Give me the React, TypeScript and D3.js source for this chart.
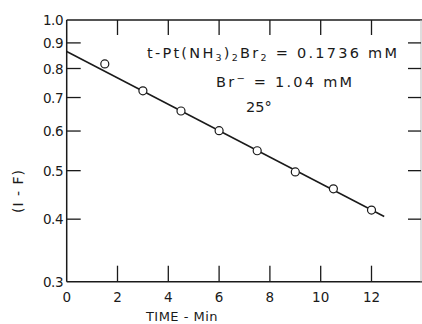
import * as d3 from "d3";

// measured points, (1-F) vs time
const timeMin = [1.5, 3, 4.5, 6, 7.5, 9, 10.5, 12];
const oneMinusF = [0.817, 0.722, 0.658, 0.601, 0.548, 0.497, 0.46, 0.417];

// fitted line endpoints
const fitTime = [0, 12.5];
const fitValue = [0.865, 0.405];

const xTicks = [0, 2, 4, 6, 8, 10, 12];
const xTickLabels = ["0", "2", "4", "6", "8", "10", "12"];
const yTicks = [1.0, 0.9, 0.8, 0.7, 0.6, 0.5, 0.4, 0.3];
const yTickLabels = ["1.0", "0.9", "0.8", "0.7", "0.6", "0.5", "0.4", "0.3"];

const W = 422;
const H = 324;
const left = 66.7;
const right = 421;
const top = 20;
const bottom = 281.7;
const font = "'DejaVu Sans', Verdana, sans-serif";
const ink = "#1a1a1a";

export default function App() {
  const x = d3.scaleLinear().domain([0, 14]).range([left, 422.3]);
  const y = d3.scaleLog().domain([0.3, 1]).range([bottom, top]);

  const line = d3
    .line<number>()
    .x((d, i) => x(fitTime[i]))
    .y((d) => y(d));

  const innerX = xTicks.filter((t) => t > 0);
  const innerY = yTicks.filter((t) => t < 1 && t > 0.3);

  return (
    <svg
      width={W}
      height={H}
      style={{ position: "absolute", left: 0, top: 0, background: "#fff" }}
      fontFamily={font}
    >
      {/* frame */}
      <line x1={left} x2={left} y1={top} y2={bottom} stroke={ink} strokeWidth={1.5} />
      <line x1={left} x2={right + 1} y1={top} y2={top} stroke={ink} strokeWidth={1.5} />
      <line x1={left} x2={right + 1} y1={bottom} y2={bottom} stroke={ink} strokeWidth={1.5} />
      <line x1={right} x2={right} y1={top} y2={bottom} stroke="#bbb" strokeWidth={1} />

      {/* x ticks */}
      {innerX.map((t) => (
        <g key={"xt" + t}>
          <line x1={x(t)} x2={x(t)} y1={bottom} y2={bottom - 16} stroke={ink} strokeWidth={1.3} />
          <line x1={x(t)} x2={x(t)} y1={top} y2={top + 15} stroke={ink} strokeWidth={1.3} />
        </g>
      ))}
      {/* y ticks */}
      {innerY.map((t) => (
        <g key={"yt" + t}>
          <line x1={left} x2={left + 14} y1={y(t)} y2={y(t)} stroke={ink} strokeWidth={1.3} />
          <line x1={right} x2={right - 13} y1={y(t)} y2={y(t)} stroke={ink} strokeWidth={1.3} />
        </g>
      ))}

      {/* tick labels */}
      {xTicks.map((t, i) => (
        <text key={"xl" + t} x={x(t)} y={302} fontSize={13.5} textAnchor="middle" fill={ink}>
          {xTickLabels[i]}
        </text>
      ))}
      {yTicks.map((t, i) => (
        <text
          key={"yl" + t}
          x={63}
          y={y(t) + 5}
          fontSize={13.5}
          textAnchor="end"
          fill={ink}
          letterSpacing={-0.5}
        >
          {yTickLabels[i]}
        </text>
      ))}

      {/* axis titles */}
      <text x={182} y={321} fontSize={13} textAnchor="middle" fill={ink} letterSpacing={0.5}>
        TIME - Min
      </text>
      <text
        transform="translate(23,191) rotate(-90)"
        fontSize={14}
        textAnchor="middle"
        fill={ink}
        letterSpacing={1}
      >
        (I - F)
      </text>

      {/* fit line */}
      <path d={line(fitValue) || ""} fill="none" stroke={ink} strokeWidth={1.5} />

      {/* points */}
      {timeMin.map((t, i) => (
        <circle
          key={"p" + i}
          cx={x(t)}
          cy={y(oneMinusF[i])}
          r={4}
          fill="#fff"
          stroke={ink}
          strokeWidth={1.2}
        />
      ))}

      {/* annotations */}
      <text x={147} y={57.5} fontSize={14.5} fill={ink} textLength={250} lengthAdjust="spacing">
        t-Pt(NH<tspan fontSize={9.5} dy={3}>3</tspan>
        <tspan dy={-3}>)</tspan>
        <tspan fontSize={9.5} dy={3}>2</tspan>
        <tspan dy={-3}>Br</tspan>
        <tspan fontSize={9.5} dy={3}>2</tspan>
        <tspan dy={-3}> = 0.1736 mM</tspan>
      </text>
      <text x={216} y={86.7} fontSize={14.5} fill={ink} textLength={136} lengthAdjust="spacing">
        Br<tspan fontSize={10} dy={-5}>−</tspan>
        <tspan dy={5}> = 1.04 mM</tspan>
      </text>
      <text x={246} y={111.7} fontSize={14.5} fill={ink}>
        25°
      </text>
    </svg>
  );
}
